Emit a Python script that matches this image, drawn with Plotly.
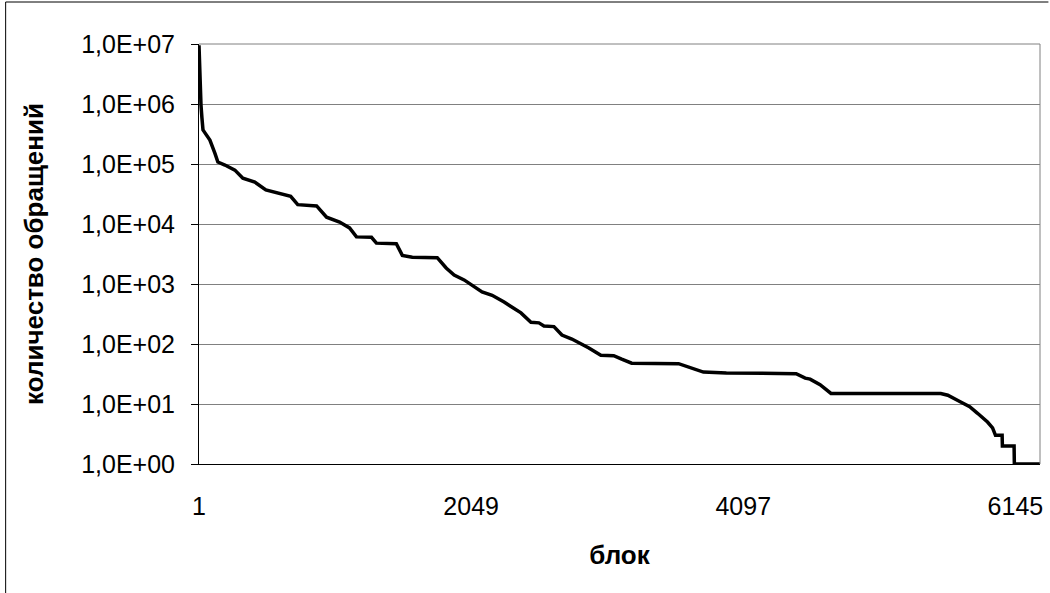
import plotly.graph_objects as go

# Data (block index, access count)
blocks = [1, 8, 16, 23, 31, 46, 83, 121, 143, 196, 271, 331, 421, 504, 586, 691, 744, 886,
          961, 1059, 1134, 1186, 1299, 1336, 1486, 1531, 1606, 1794, 1861, 1921, 1996, 2086,
          2131, 2207, 2297, 2424, 2499, 2559, 2597, 2672, 2732, 2807, 2935, 3025, 3122, 3182,
          3257, 3610, 3684, 3797, 3970, 4495, 4563, 4600, 4675, 4757, 5583, 5636, 5726, 5801,
          5860, 5898, 5935, 5973, 5995, 6045, 6047, 6135, 6137, 6330]
counts = [9.5e6, 2.2e6, 9.6e5, 5.9e5, 3.7e5, 3.3e5, 2.5e5, 1.5e5, 1.08e5, 9.6e4, 7.9e4, 5.8e4,
          5.0e4, 3.7e4, 3.3e4, 2.9e4, 2.1e4, 2.0e4, 1.3e4, 1.08e4, 8600, 6100, 6000, 4800, 4700,
          3000, 2800, 2750, 1850, 1410, 1170, 860, 740, 650, 500, 330, 230, 225, 200, 195, 141,
          121, 86, 65, 64, 56, 48, 47, 41, 34, 33, 32, 27, 26, 21, 15, 15, 14, 11, 9,
          7, 6, 5, 4, 3, 3, 2, 2, 1, 1]

x_tickvals = [1, 2049, 4097, 6145]
x_ticktext = ["1", "2049", "4097", "6145"]
y_tickvals = [1, 10, 100, 1000, 10000, 100000, 1000000, 10000000]
y_ticktext = ["1,0E+00", "1,0E+01", "1,0E+02", "1,0E+03", "1,0E+04", "1,0E+05", "1,0E+06", "1,0E+07"]

x_title = "блок"
y_title = "количество обращений"

FONT = "Liberation Sans, Arial, sans-serif"

fig = go.Figure()
fig.add_trace(go.Scatter(x=blocks, y=counts, mode="lines",
                         line=dict(color="black", width=3.5), showlegend=False,
                         hoverinfo="skip"))

fig.update_layout(
    width=1050, height=593,
    margin=dict(l=199, r=7, t=44, b=129),
    paper_bgcolor="white", plot_bgcolor="white",
    font=dict(family=FONT, color="black", size=25),
    xaxis=dict(
        range=[1, 6330], tickvals=x_tickvals, ticktext=x_ticktext,
        showgrid=False, zeroline=False, showline=True, linecolor="black", linewidth=1,
        ticks="", ticklabelstandoff=20,
        title=dict(text="<b>" + x_title + "</b>", font=dict(size=26), standoff=26),
    ),
    yaxis=dict(
        type="log", range=[0, 7], tickvals=y_tickvals, ticktext=y_ticktext,
        showgrid=True, gridcolor="#808080", gridwidth=1,
        zeroline=False, showline=True, linecolor="black", linewidth=1,
        ticks="outside", ticklen=7, tickcolor="black", tickwidth=1,
        ticklabelstandoff=11,
        title=dict(text="<b>" + y_title + "</b>", font=dict(size=26), standoff=30),
    ),
    shapes=[
        dict(type="line", xref="paper", yref="paper", x0=1, x1=1, y0=0, y1=1,
             line=dict(color="#808080", width=1)),
        dict(type="line", xref="paper", yref="paper", x0=0, x1=1, y0=1, y1=1,
             line=dict(color="#808080", width=1)),
        dict(type="line", xref="paper", yref="paper", x0=-0.2299, x1=-0.2299, y0=-0.31, y1=1.1,
             line=dict(color="black", width=1)),
        dict(type="line", xref="paper", yref="paper", x0=-0.2299, x1=1.01, y0=1.1, y1=1.1,
             line=dict(color="black", width=1)),
    ],
)

fig.write_html("out.html")
